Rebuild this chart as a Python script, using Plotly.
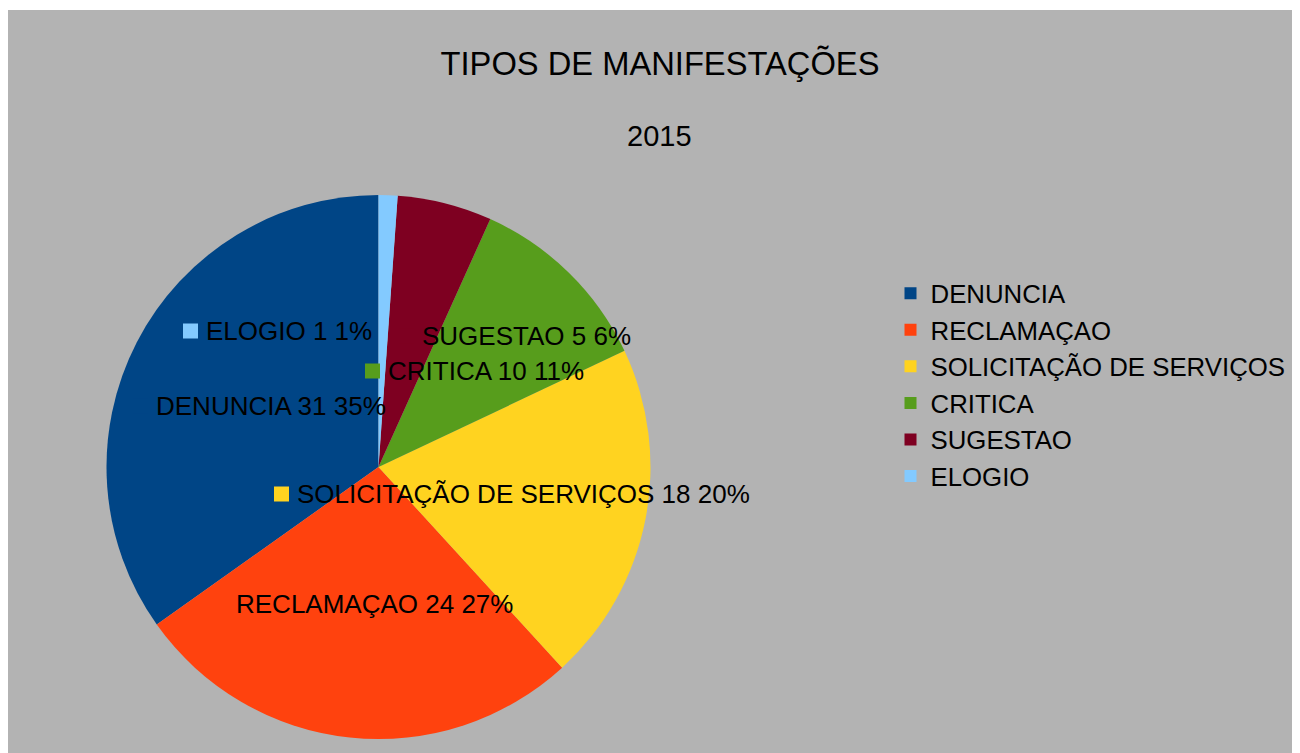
import plotly.graph_objects as go

# page is offset by the default 8px body margin
OFF = 8
W, H = 1300, 753 - OFF

categories = ["DENUNCIA", "RECLAMAÇAO", "SOLICITAÇÃO DE SERVIÇOS", "CRITICA", "SUGESTAO", "ELOGIO"]
values = [31, 24, 18, 10, 5, 1]
colors = ["#004586", "#ff420e", "#ffd320", "#579d1c", "#7e0021", "#83caff"]
title_text = "TIPOS DE MANIFESTAÇÕES"
subtitle_text = "2015"

# label placement (page pixel positions of label text start / centre line)
label_pos = {
    "DENUNCIA": (157, 406),
    "RECLAMAÇAO": (237, 604),
    "SOLICITAÇÃO DE SERVIÇOS": (298, 494),
    "CRITICA": (389, 371),
    "SUGESTAO": (423, 336),
    "ELOGIO": (207, 331),
}

FONT = "Liberation Sans, Arial, sans-serif"


def px(x):
    return (x - OFF) / W


def py(y):
    return 1 - (y - OFF) / H


total = sum(values)
# plotly's counterclockwise pies end the first slice at `rotation`;
# shift so the first slice starts at 12 o'clock like the reference
rotation = -360 * values[0] / total

fig = go.Figure()
fig.add_trace(go.Pie(
    labels=categories,
    values=values,
    marker=dict(colors=colors, line=dict(width=0)),
    sort=False,
    direction="counterclockwise",
    rotation=rotation,
    textinfo="none",
    hoverinfo="label+value+percent",
    domain=dict(x=[px(106.5), px(650.5)], y=[py(739), py(195)]),
))

shapes = [
    dict(type="rect", xref="paper", yref="paper", x0=0, x1=1, y0=py(10), y1=1,
         fillcolor="white", line=dict(width=0), layer="below"),
]
annotations = []
for cat, val, col in zip(categories, values, colors):
    tx, ty = label_pos[cat]
    pct = round(100 * val / total)
    annotations.append(dict(
        x=px(tx - 3), y=py(ty), xref="paper", yref="paper", xanchor="left", yanchor="middle",
        text=f"{cat} {val} {pct}%", showarrow=False,
        font=dict(family=FONT, size=26, color="black"),
    ))
    shapes.append(dict(
        type="rect", xref="paper", yref="paper",
        x0=px(tx - 24), x1=px(tx - 9), y0=py(ty + 7.5), y1=py(ty - 7.5),
        fillcolor=col, line=dict(width=0),
    ))

annotations.append(dict(
    x=px(660), y=py(136), xref="paper", yref="paper", xanchor="center", yanchor="middle",
    text=subtitle_text, showarrow=False, font=dict(family=FONT, size=29, color="black"),
))

fig.update_layout(
    width=W, height=H,
    margin=dict(l=0, r=0, t=0, b=0),
    paper_bgcolor="#b3b3b3",
    plot_bgcolor="#b3b3b3",
    title=dict(text=title_text, x=px(660), xanchor="center", y=py(64), yanchor="middle",
               yref="container", font=dict(family=FONT, size=32.7, color="black")),
    showlegend=True,
    legend=dict(x=px(890.5), y=py(270), xanchor="left", yanchor="top",
                bgcolor="rgba(0,0,0,0)", font=dict(family=FONT, size=25.8, color="black"),
                traceorder="normal"),
    shapes=shapes,
    annotations=annotations,
)

fig.write_html("out.html")
